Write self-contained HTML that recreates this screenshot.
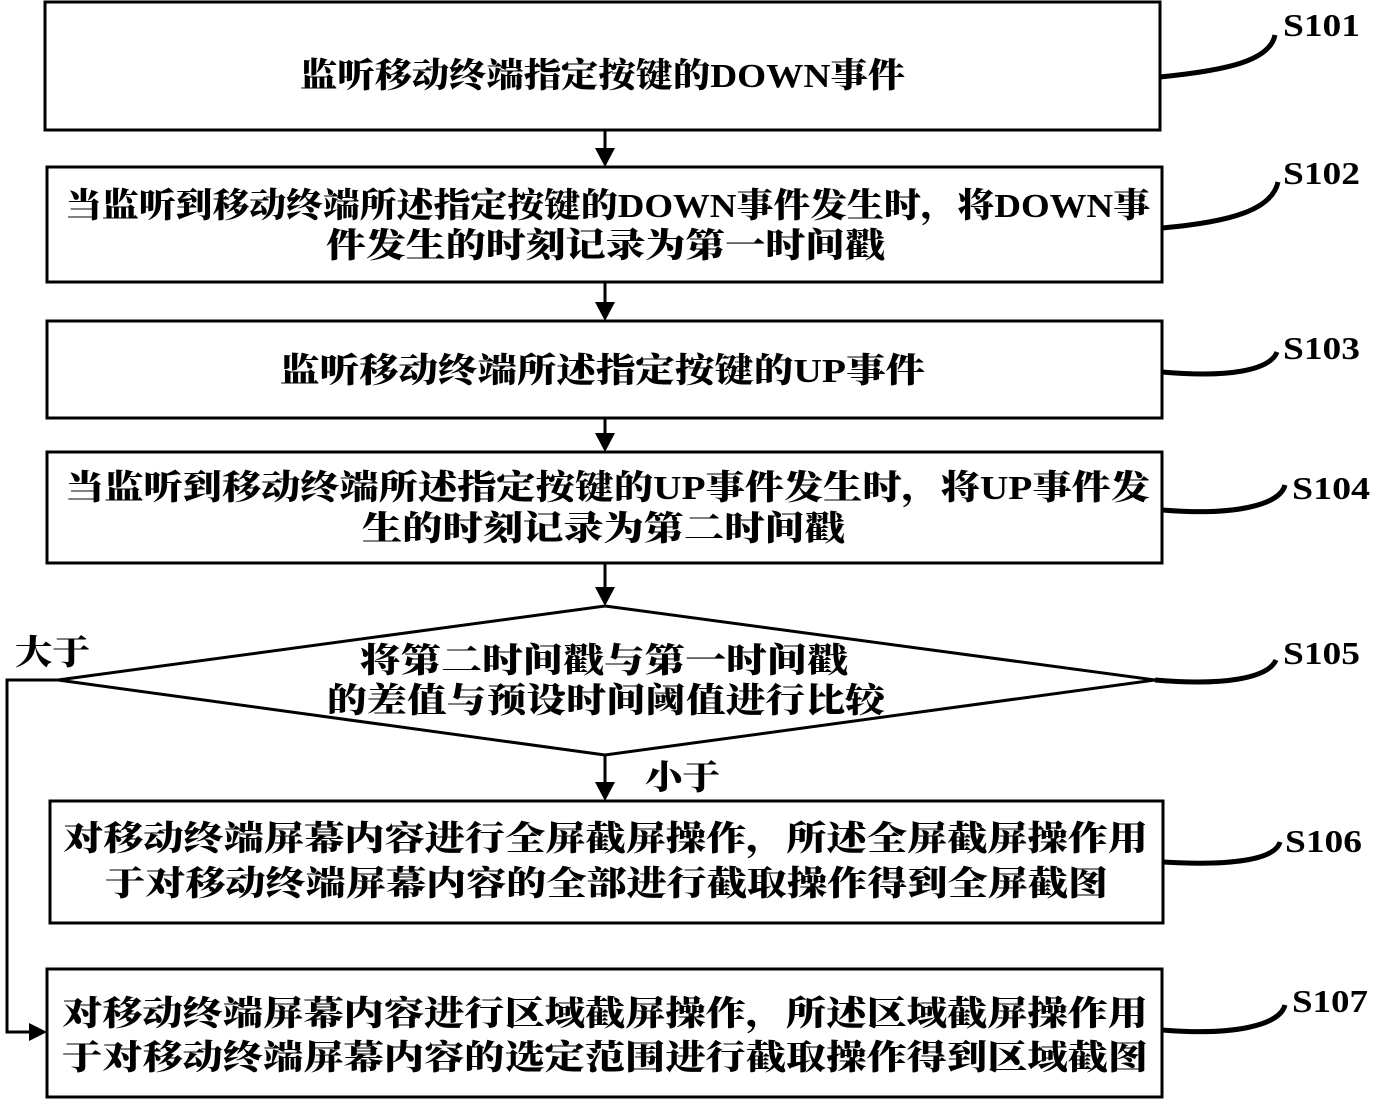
<!DOCTYPE html>
<html><head><meta charset="utf-8"><style>
html,body{margin:0;padding:0;background:#fff;}
svg{display:block;}
text{font-family:"Liberation Serif","Noto Serif CJK SC",serif;font-weight:900;font-size:34px;fill:#000;}
.lb{font-size:32px;}
</style></head><body>
<svg width="1378" height="1104" viewBox="0 0 1378 1104" xmlns="http://www.w3.org/2000/svg">
<defs><marker id="ah" markerWidth="10" markerHeight="10" refX="5" refY="9" orient="auto" markerUnits="userSpaceOnUse" viewBox="0 0 10 10"></marker></defs>
<g fill="none" stroke="#000" stroke-width="3">
<rect x="45" y="2" width="1115" height="128"/>
<rect x="47" y="167" width="1115" height="115"/>
<rect x="47" y="321" width="1115" height="97"/>
<rect x="47" y="452" width="1115" height="111"/>
<polygon points="605,606 1155,680 605,755 58,680"/>
<rect x="50" y="801" width="1113" height="122"/>
<rect x="47" y="969" width="1115" height="128"/>
<line x1="605" y1="130" x2="605" y2="152"/>
<line x1="605" y1="282" x2="605" y2="306"/>
<line x1="605" y1="418" x2="605" y2="437"/>
<line x1="605" y1="563" x2="605" y2="590"/>
<line x1="605" y1="755" x2="605" y2="786"/>
<polyline points="58,680 7,680 7,1032 32,1032"/>
<path d="M1160,77 C1230,70 1270,60 1275,35" stroke-width="5"/>
<path d="M1162,228 C1230,222 1272,210 1278,182" stroke-width="5"/>
<path d="M1162,372 C1230,378 1270,370 1277,352" stroke-width="5"/>
<path d="M1162,510 C1235,516 1280,505 1285,485" stroke-width="5"/>
<path d="M1155,680 C1225,686 1268,678 1276,660" stroke-width="5"/>
<path d="M1163,862 C1230,866 1275,860 1280,842" stroke-width="5"/>
<path d="M1162,1030 C1235,1036 1280,1025 1285,1005" stroke-width="5"/>
</g>
<g fill="#000">
<polygon points="595,148 615,148 605,167"/>
<polygon points="595,302 615,302 605,321"/>
<polygon points="595,433 615,433 605,452"/>
<polygon points="595,587 615,587 605,606"/>
<polygon points="595,782 615,782 605,801"/>
<polygon points="29,1023 29,1041 47,1032"/>
</g>
<text x="300" y="87" textLength="605" lengthAdjust="spacingAndGlyphs">监听移动终端指定按键的DOWN事件</text>
<text x="65" y="217" textLength="1085" lengthAdjust="spacingAndGlyphs">当监听到移动终端所述指定按键的DOWN事件发生时，将DOWN事</text>
<text x="326" y="257" textLength="559" lengthAdjust="spacingAndGlyphs">件发生的时刻记录为第一时间戳</text>
<text x="280" y="382" textLength="645" lengthAdjust="spacingAndGlyphs">监听移动终端所述指定按键的UP事件</text>
<text x="65" y="499" textLength="1085" lengthAdjust="spacingAndGlyphs">当监听到移动终端所述指定按键的UP事件发生时，将UP事件发</text>
<text x="362" y="540" textLength="483" lengthAdjust="spacingAndGlyphs">生的时刻记录为第二时间戳</text>
<text x="360" y="672" textLength="488" lengthAdjust="spacingAndGlyphs">将第二时间戳与第一时间戳</text>
<text x="327" y="712" textLength="558" lengthAdjust="spacingAndGlyphs">的差值与预设时间阈值进行比较</text>
<text x="15" y="664" textLength="75" lengthAdjust="spacingAndGlyphs">大于</text>
<text x="645" y="789" textLength="75" lengthAdjust="spacingAndGlyphs">小于</text>
<text x="63" y="850" textLength="1085" lengthAdjust="spacingAndGlyphs">对移动终端屏幕内容进行全屏截屏操作，所述全屏截屏操作用</text>
<text x="105" y="895" textLength="1003" lengthAdjust="spacingAndGlyphs">于对移动终端屏幕内容的全部进行截取操作得到全屏截图</text>
<text x="62" y="1025" textLength="1086" lengthAdjust="spacingAndGlyphs">对移动终端屏幕内容进行区域截屏操作，所述区域截屏操作用</text>
<text x="62" y="1069" textLength="1086" lengthAdjust="spacingAndGlyphs">于对移动终端屏幕内容的选定范围进行截取操作得到区域截图</text>
<text class="lb" x="1283" y="36" textLength="77" lengthAdjust="spacingAndGlyphs">S101</text>
<text class="lb" x="1283" y="184" textLength="77" lengthAdjust="spacingAndGlyphs">S102</text>
<text class="lb" x="1283" y="359" textLength="77" lengthAdjust="spacingAndGlyphs">S103</text>
<text class="lb" x="1292" y="499" textLength="78" lengthAdjust="spacingAndGlyphs">S104</text>
<text class="lb" x="1283" y="664" textLength="77" lengthAdjust="spacingAndGlyphs">S105</text>
<text class="lb" x="1285" y="852" textLength="77" lengthAdjust="spacingAndGlyphs">S106</text>
<text class="lb" x="1292" y="1012" textLength="76" lengthAdjust="spacingAndGlyphs">S107</text>
</svg>
</body></html>
